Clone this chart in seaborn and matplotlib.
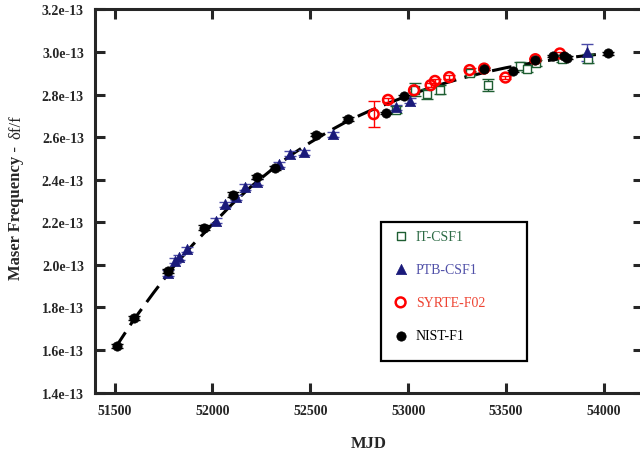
import numpy as np
import pandas as pd
import seaborn as sns
import matplotlib.pyplot as plt
from matplotlib.patches import Rectangle
from matplotlib.ticker import FuncFormatter, MultipleLocator

# Data (fractional frequency in units of 1e-13)

nist_mjd = [51511, 51599, 51775, 51955, 52104, 52230, 52320, 52529, 52695,
            52887, 52977, 53388, 53537, 53650, 53740, 53795, 53810, 54023]
nist_val = [1.620, 1.750, 1.970, 2.175, 2.330, 2.413, 2.455, 2.612, 2.685,
            2.713, 2.791, 2.921, 2.911, 2.963, 2.981, 2.982, 2.974, 2.994]
nist_err = [0.010, 0.010, 0.010, 0.010, 0.010, 0.010, 0.008, 0.008, 0.008,
            0.006, 0.006, 0.006, 0.006, 0.006, 0.006, 0.006, 0.006, 0.006]

ptb_mjd = [51775, 51809, 51831, 51872, 52018, 52062, 52122, 52165, 52226,
           52342, 52398, 52468, 52615, 52940, 53010, 53915]
ptb_val = [1.962, 2.019, 2.035, 2.074, 2.207, 2.284, 2.318, 2.366, 2.389,
           2.473, 2.523, 2.528, 2.613, 2.740, 2.770, 2.999]
ptb_err = [0.012, 0.012, 0.012, 0.012, 0.012, 0.012, 0.012, 0.012, 0.012,
           0.012, 0.012, 0.012, 0.012, 0.012, 0.012, 0.040]

syrte_mjd = [52824, 52897, 53030, 53115, 53137, 53210, 53314, 53388, 53497,
             53650, 53775]
syrte_val = [2.708, 2.775, 2.820, 2.844, 2.864, 2.882, 2.915, 2.922, 2.880,
             2.966, 2.993]
syrte_err = [0.060, 0.008, 0.008, 0.008, 0.008, 0.008, 0.008, 0.008, 0.008,
             0.008, 0.008]

it_mjd = [52940, 53035, 53095, 53163, 53316, 53410, 53572, 53606, 53655,
          53785, 53921]
it_val = [2.729, 2.822, 2.802, 2.823, 2.902, 2.845, 2.935, 2.919, 2.949,
          2.966, 2.969]
it_err = [0.015, 0.030, 0.025, 0.020, 0.010, 0.030, 0.020, 0.015, 0.015,
          0.015, 0.020]

# Dashed fit curve
fit_mjd = [51500, 51600, 51700, 51800, 51900, 52000, 52100, 52200, 52300,
           52400, 52500, 52600, 52700, 52800, 52900, 53000, 53100, 53200,
           53300, 53400, 53500, 53600, 53700, 53800, 53900, 53960]
fit_val = [1.605, 1.745, 1.870, 1.990, 2.095, 2.190, 2.285, 2.370, 2.445,
           2.515, 2.575, 2.630, 2.680, 2.722, 2.760, 2.795, 2.828, 2.857,
           2.883, 2.906, 2.926, 2.943, 2.958, 2.971, 2.982, 2.988]

series = [
    ('IT-CSF1', it_mjd, it_val, it_err, dict(marker='s', s=30, facecolor='white', edgecolor='#1e5e32', linewidth=1.0), '#1e5e32', '#2d6b45'),
    ('PTB-CSF1', ptb_mjd, ptb_val, ptb_err, dict(marker='^', s=55, facecolor='#1a1a7a', edgecolor='#1a1a7a', linewidth=0.5), '#4a4aa8', '#5050a8'),
    ('SYRTE-F02', syrte_mjd, syrte_val, syrte_err, dict(marker='o', s=50, facecolor='none', edgecolor='#ff0000', linewidth=1.8), '#ff0000', '#ee4433'),
    ('NIST-F1', nist_mjd, nist_val, nist_err, dict(marker='o', s=45, facecolor='black', edgecolor='black', linewidth=0.5), 'black', 'black'),
]

sns.set_style('ticks')
plt.rcParams['font.family'] = ['Liberation Serif', 'DejaVu Serif']

fig = plt.figure(figsize=(6.4, 4.56), dpi=100)
ax = fig.add_axes([95 / 640, (456 - 393.6) / 456, 548 / 640, 383.2 / 456])

fit = pd.DataFrame({'MJD': fit_mjd, 'val': fit_val})
sns.lineplot(data=fit, x='MJD', y='val', ax=ax, color='black', lw=2.2,
             dashes=False, zorder=2)
ax.lines[0].set_dashes([6.5, 2.8])

handles = []
for name, x, y, e, style, ecol, tcol in series:
    ax.errorbar(x, y, yerr=e, fmt='none', ecolor=ecol, elinewidth=1.0,
                capsize=4, capthick=1.0, zorder=3)
    sns.scatterplot(x=x, y=y, ax=ax, zorder=4, label=name, **style)
    handles.append(ax.collections[-1])

ax.set_xlim(51400, 54200)
ax.set_ylim(1.4, 3.2)
ax.xaxis.set_major_locator(MultipleLocator(500))
ax.yaxis.set_major_locator(MultipleLocator(0.2))
ax.yaxis.set_major_formatter(FuncFormatter(lambda v, p: '{:.1f}e-13'.format(v)))

for s in ax.spines.values():
    s.set_linewidth(2.2)
    s.set_visible(True)
ax.tick_params(which='major', direction='in', length=7, width=2.2,
               top=True, right=True, labelsize=10, pad=8)
for lab in ax.get_xticklabels() + ax.get_yticklabels():
    lab.set_fontweight('bold')

ax.set_xlabel('MJD', fontsize=12, fontweight='bold', labelpad=13)
ax.set_ylabel('')
fig.text(16 / 640, 1 - 213 / 456, 'Maser Frequency -', rotation=90,
         fontsize=12, fontweight='bold', ha='center', va='center')
fig.text(16 / 640, 1 - 127 / 456, 'δf/f', rotation=90,
         fontsize=12, ha='center', va='center')

# Legend box
ax.add_patch(Rectangle((0.522, 0.0825), 0.266, 0.3625, transform=ax.transAxes,
                       fill=False, edgecolor='black', linewidth=1.6, zorder=5))
leg = ax.legend(handles=handles, labels=[s[0] for s in series],
                loc='upper left', bbox_to_anchor=(0.545, 0.425),
                frameon=False, fontsize=10, labelspacing=1.45,
                handlelength=1.0, handletextpad=0.6, borderpad=0,
                borderaxespad=0)
for t, s in zip(leg.get_texts(), series):
    t.set_color(s[6])

plt.savefig('out.png', dpi=100)
